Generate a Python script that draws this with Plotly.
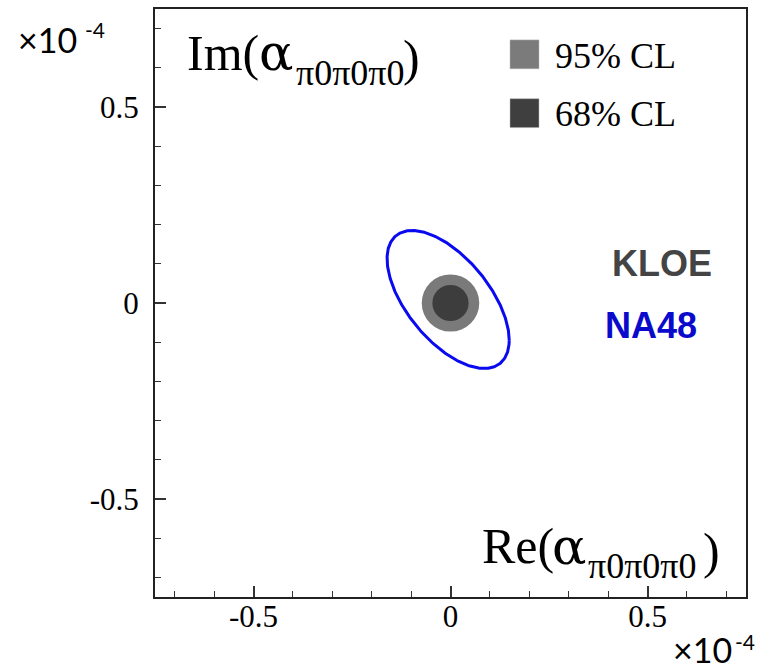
import numpy as np
import plotly.graph_objects as go

# ---- data (units of 1e-4) ----
kloe_center = [0.0, 0.0]
kloe_radius_95 = 0.073
kloe_radius_68 = 0.046

na48_center = [-0.006, 0.009]
na48_sigma = [0.155, 0.176]
na48_rho = -0.59

legend_labels = ["95% CL", "68% CL"]
tick_values = [-0.5, 0, 0.5]
tick_labels = ["-0.5", "0", "0.5"]
axis_range = [-0.75, 0.75]

# ---- figure geometry ----
W, H = 766, 669
L, R, T, B = 155, 20, 7, 72
PW, PH = W - L - R, H - T - B


def px(x):
    return (x - L) / PW


def py(y):
    return (H - B - y) / PH


SERIF = "Liberation Serif"
SANS = "Liberation Sans"

fig = go.Figure()

# NA48 ellipse (contour from centre, widths and correlation)
t = np.linspace(0, 2 * np.pi, 361)
sx, sy = na48_sigma
ex = na48_center[0] + sx * np.cos(t)
ey = na48_center[1] + sy * (na48_rho * np.cos(t) + np.sqrt(1 - na48_rho ** 2) * np.sin(t))
fig.add_trace(go.Scatter(x=ex, y=ey, mode="lines",
                         line=dict(color="#0a0af0", width=3),
                         hoverinfo="skip", showlegend=False))

shapes = []
# KLOE regions
for r, col in [(kloe_radius_95, "#7a7a7a"), (kloe_radius_68, "#3d3d3d")]:
    shapes.append(dict(type="circle", xref="x", yref="y",
                       x0=kloe_center[0] - r, x1=kloe_center[0] + r,
                       y0=kloe_center[1] - r, y1=kloe_center[1] + r,
                       fillcolor=col, line=dict(width=0), layer="above"))

# legend squares
for (y0, y1), col in [((38, 67), "#7b7b7b"), ((97, 126), "#3f3f3f")]:
    shapes.append(dict(type="rect", xref="paper", yref="paper",
                       x0=px(510), x1=px(539), y0=py(y1), y1=py(y0),
                       fillcolor=col, line=dict(width=0.5, color="#bbbbbb")))

annotations = []


def note(text, x, y, size, family=SERIF, color="black", xanchor="left"):
    annotations.append(dict(text=text, xref="paper", yref="paper", x=px(x), y=py(y),
                            xanchor=xanchor, yanchor="middle", showarrow=False,
                            font=dict(family=family, size=size, color=color)))


# legend text
for lbl, yc in zip(legend_labels, [54, 112]):
    note(lbl, 553, yc, 36)

# axis titles (prefix, alpha, subscript, closing parenthesis)
for prefix, (xm, ym), (xa, ya), (xs, ys), (xp, yp) in [
        ("Im(", (185, 51), (257, 51), (294, 71), (401, 56)),
        ("Re(", (480, 546), (550, 546), (586, 566), (701, 551))]:
    note(prefix, xm, ym, 50)
    note("α", xa, ya, 51, family="DejaVu Serif")
    note("π0π0π0", xs, ys, 36)
    note(")", xp, yp, 50)

# experiment labels
note("<b>KLOE</b>", 662, 262, 36, family=SANS, color="#444444", xanchor="center")
note("<b>NA48</b>", 651, 325, 36, family=SANS, color="#0a0acc", xanchor="center")

# exponent labels
for (xx, yy, xs, ys) in [(16, 38, 83, 28), (671, 650, 733, 642)]:
    note("×10", xx, yy, 34, family="Lato")
    note("-4", xs, ys, 21, family="Lato")

TICKFONT = dict(family="Liberation Serif, Times New Roman, serif", size=31, color="black")
axis_common = dict(range=axis_range, tickmode="array", tickvals=tick_values, ticktext=tick_labels,
                   ticks="inside", ticklen=11, tickwidth=1.5, tickcolor="#333333",
                   minor=dict(tickmode="linear", tick0=0, dtick=0.1, ticks="inside",
                              ticklen=6, tickwidth=1, tickcolor="#333333", showgrid=False),
                   showline=True, linecolor="#222222", linewidth=2, mirror=True,
                   showgrid=False, zeroline=False, fixedrange=True)

fig.update_layout(
    width=W, height=H,
    font=dict(family=SERIF, color="black"),
    margin=dict(l=L, r=R, t=T, b=B, pad=0),
    paper_bgcolor="white", plot_bgcolor="white",
    xaxis=dict(**axis_common, ticklabelstandoff=-9, tickfont=TICKFONT),
    yaxis=dict(**axis_common, ticklabelstandoff=8, tickfont=TICKFONT),
    shapes=shapes, annotations=annotations, showlegend=False,
)

fig.write_html("out.html", config={"displayModeBar": False},
               post_script="document.body.style.margin='0px';document.body.style.overflow='hidden';")
